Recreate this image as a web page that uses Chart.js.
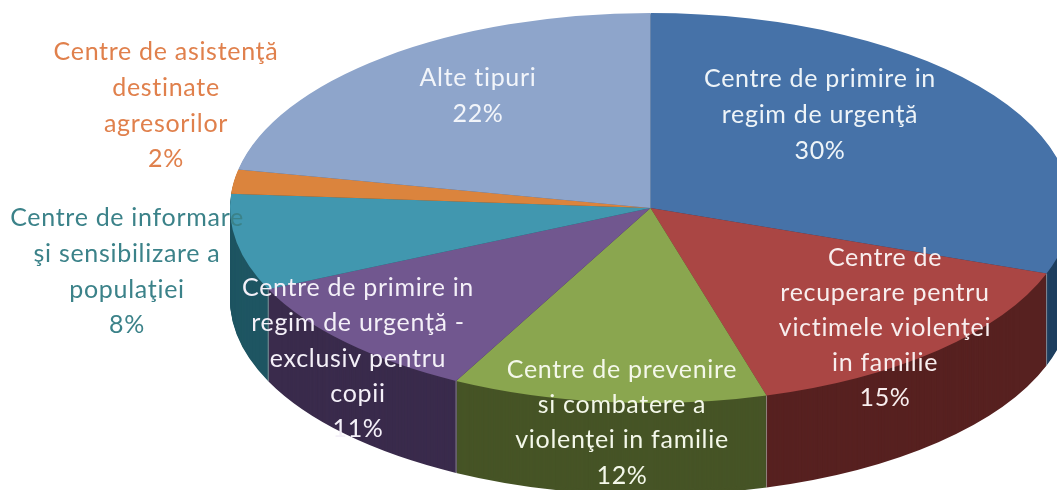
<!DOCTYPE html>
<html>
<head>
<meta charset="utf-8">
<style>
  html, body { margin: 0; padding: 0; background: #fff; }
  canvas { display: block; }
</style>
<script src="https://cdn.jsdelivr.net/npm/chart.js@4"></script>
</head>
<body>
<canvas id="pie" width="1057" height="490"></canvas>
<script>
// Data
const categories = [
  ["Centre de primire in", "regim de urgenţă"],
  ["Centre de", "recuperare pentru", "victimele violenţei", "in familie"],
  ["Centre de prevenire", "si combatere a", "violenţei in familie"],
  ["Centre de primire in", "regim de urgenţă -", "exclusiv pentru", "copii"],
  ["Centre de informare", "şi sensibilizare a", "populaţiei"],
  ["Centre de asistenţă", "destinate", "agresorilor"],
  ["Alte tipuri"]
];
// Slice sizes, the printed labels are these rounded
const values = [30.45, 15.1, 12.1, 10.51, 8, 2, 21.84];

// Colours
const topColors = ["#4672a8", "#aa4644", "#8aa64f", "#71578f", "#4197af", "#db843d", "#8ea5cb"];
const sideColors = ["#1f3f60", "#572120", "#465426", "#3a2b4c", "#1e5562", "#7a4a20", "#4f5e78"];
const textColors = ["#eef4f8", "#f8eeee", "#f4f8ea", "#f4f0f8", "#3b8289", "#e0804c", "#f2f5fa"];

// Fake 3D: the flat pie gets squashed into this ellipse and extruded downwards
const pieCx = 650.5, pieCy = 208, pieRx = 420.5, pieRy = 195, pieDepth = 92;

// Label layout: centre x, y of first line, line height
const labelX = [820, 885, 622, 358, 127, 166, 478];
const labelY = [79, 258, 370, 288, 218, 52, 78];
const labelStep = [36, 35, 35.2, 35.3, 35.8, 35.8, 36];

function pieTransform(ctx, arc, dy) {
  const r = arc.outerRadius;
  ctx.translate(pieCx, pieCy + dy);
  ctx.scale(pieRx / r, pieRy / r);
  ctx.translate(-arc.x, -arc.y);
}

const pie3d = {
  id: "pie3d",
  beforeDatasetsDraw(chart) {
    const ctx = chart.ctx;
    const arcs = chart.getDatasetMeta(0).data;

    // side wall, a stack of dark copies from the bottom up
    for (let d = pieDepth; d >= 1; d--) {
      ctx.save();
      pieTransform(ctx, arcs[0], d);
      arcs.forEach((arc, i) => {
        const saved = arc.options;
        arc.options = { ...saved, backgroundColor: sideColors[i] };
        arc.draw(ctx);
        arc.options = saved;
      });
      ctx.restore();
    }

    // thin light lines where the slices meet on the wall
    ctx.save();
    ctx.strokeStyle = "rgba(190, 190, 190, 0.6)";
    ctx.lineWidth = 1;
    arcs.forEach(arc => {
      const s = Math.sin(arc.endAngle);
      if (s <= 0) return;
      const x = pieCx + pieRx * Math.cos(arc.endAngle);
      const y = pieCy + pieRy * s;
      ctx.beginPath();
      ctx.moveTo(x, y);
      ctx.lineTo(x, y + pieDepth);
      ctx.stroke();
    });
    ctx.restore();

    // the library draws the top face inside this transform
    ctx.save();
    pieTransform(ctx, arcs[0], 0);
  },
  afterDatasetsDraw(chart) {
    const ctx = chart.ctx;
    ctx.restore();

    ctx.save();
    ctx.font = "25px Lato";
    ctx.letterSpacing = "0.7px";
    ctx.textAlign = "center";
    ctx.textBaseline = "middle";
    categories.forEach((lines, i) => {
      ctx.fillStyle = textColors[i];
      [...lines, Math.round(values[i]) + "%"].forEach((line, n) => {
        ctx.fillText(line, labelX[i], labelY[i] + n * labelStep[i]);
      });
    });
    ctx.restore();
  }
};

new Chart(document.getElementById("pie"), {
  type: "pie",
  data: {
    labels: categories.map(lines => lines.join(" ")),
    datasets: [{
      data: values,
      backgroundColor: topColors,
      borderWidth: 0,
      clip: false
    }]
  },
  options: {
    responsive: false,
    animation: false,
    plugins: {
      legend: { display: false },
      tooltip: { enabled: false }
    }
  },
  plugins: [pie3d]
});
</script>
</body>
</html>
